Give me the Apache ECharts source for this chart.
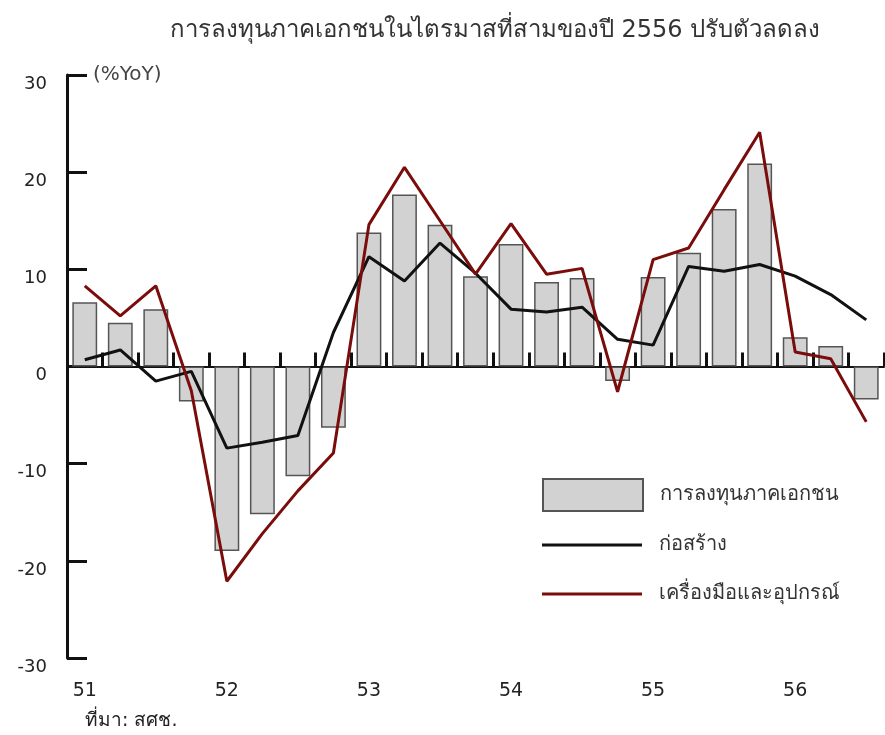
<!DOCTYPE html>
<html>
<head>
<meta charset="utf-8">
<script src="https://cdn.jsdelivr.net/npm/echarts@6/dist/echarts.min.js"></script>
<style>
  html, body { margin: 0; padding: 0; background: #fff; }
  #contain { width: 885px; height: 735px; }
</style>
</head>
<body>
<div id="contain"></div>
<script>
// quarters 51Q1 .. 56Q3
const years = ['51', '52', '53', '54', '55', '56']
const categories = years.flatMap(y => ['1', '2', '3', '4'].map(q => q + '/' + y)).slice(0, 23)

const invest = [6.6, 4.5, 5.9, -3.6, -19.0, -15.2, -11.3, -6.3, 13.8, 17.7, 14.6, 9.3,
  12.6, 8.7, 9.1, -1.5, 9.2, 11.7, 16.2, 20.9, 3.0, 2.1, -3.4]
const construct = [0.7, 1.7, -1.5, -0.5, -8.4, -7.8, -7.1, 3.5, 11.3, 8.8, 12.7, 9.6,
  5.9, 5.6, 6.1, 2.8, 2.2, 10.3, 9.8, 10.5, 9.3, 7.4, 4.8]
const machine = [8.3, 5.2, 8.3, -2.5, -22.1, -17.2, -12.8, -8.9, 14.6, 20.5, 15.0, 9.5,
  14.7, 9.5, 10.1, -2.6, 11.0, 12.2, 18.2, 24.1, 1.5, 0.8, -5.7]

const yTicks = { min: -30, max: 30, step: 10 }

const font = "Tahoma, 'DejaVu Sans', 'Noto Sans', sans-serif"
const chart = echarts.init(document.getElementById('contain'))
const yearOnly = v => v.startsWith('1/') ? v.slice(2) : ''
const legendText = { fontFamily: font, fontSize: 20, lineHeight: 24, color: '#333', padding: [0, 0, 0, 12] }

const option = {
  backgroundColor: '#fff',
  animation: false,
  title: {
    text: 'การลงทุนภาคเอกชนในไตรมาสที่สามของปี 2556 ปรับตัวลดลง',
    left: 490,
    textAlign: 'center',
    top: 14,
    textStyle: { fontFamily: font, fontSize: 24, fontWeight: 'normal', color: '#333' }
  },
  grid: { left: 67, right: 1, top: 75, bottom: 77 },
  legend: [
    {
      orient: 'vertical',
      left: 537,
      top: 473,
      itemWidth: 100,
      itemHeight: 32,
      icon: 'rect',
      textStyle: legendText,
      data: ['การลงทุนภาคเอกชน']
    },
    {
      orient: 'vertical',
      left: 537,
      top: 528,
      itemWidth: 100,
      itemHeight: 3,
      itemGap: 25,
      icon: 'rect',
      textStyle: legendText,
      data: ['ก่อสร้าง', 'เครื่องมือและอุปกรณ์']
    }
  ],
  xAxis: [
    {
      type: 'category',
      data: categories,
      axisLine: { onZero: true, lineStyle: { color: '#111', width: 2 } },
      axisTick: { show: true, inside: true, length: 14, interval: 0, lineStyle: { color: '#111', width: 3 } },
      axisLabel: { show: false }
    },
    {
      type: 'category',
      data: categories,
      position: 'bottom',
      axisLine: { show: false, onZero: false },
      axisTick: { show: false },
      axisLabel: {
        interval: 0, margin: 24, formatter: yearOnly,
        fontFamily: font, fontSize: 19, color: '#222'
      }
    }
  ],
  yAxis: {
    type: 'value',
    min: yTicks.min,
    max: yTicks.max,
    interval: yTicks.step,
    name: '(%YoY)',
    nameLocation: 'end',
    nameGap: 0,
    nameTextStyle: {
      fontFamily: font, fontSize: 20, color: '#444',
      align: 'left', verticalAlign: 'middle', padding: [0, 0, 0, 26]
    },
    splitLine: { show: false },
    axisLine: { show: true, lineStyle: { color: '#111', width: 3 } },
    axisTick: { show: true, inside: true, length: 20, lineStyle: { color: '#111', width: 3 } },
    axisLabel: {
      margin: 20, fontFamily: font, fontSize: 18, color: '#222',
      verticalAlign: 'top'
    }
  },
  series: [
    {
      name: 'การลงทุนภาคเอกชน',
      type: 'bar',
      data: invest,
      barCategoryGap: '30%',
      itemStyle: { color: '#d2d2d2', borderColor: '#555', borderWidth: 1.5 },
      z: 1
    },
    {
      name: 'ก่อสร้าง',
      type: 'line',
      data: construct,
      symbol: 'none',
      lineStyle: { color: '#111', width: 3 },
      itemStyle: { color: '#111' },
      z: 3
    },
    {
      name: 'เครื่องมือและอุปกรณ์',
      type: 'line',
      data: machine,
      symbol: 'none',
      lineStyle: { color: '#7a0c0c', width: 3 },
      itemStyle: { color: '#7a0c0c' },
      z: 4
    }
  ],
  graphic: [
    {
      type: 'text',
      left: 85,
      top: 712,
      style: { text: 'ที่มา: สศช.', font: '19px ' + font, fill: '#222' }
    }
  ]
}

chart.setOption(option)
</script>
</body>
</html>
